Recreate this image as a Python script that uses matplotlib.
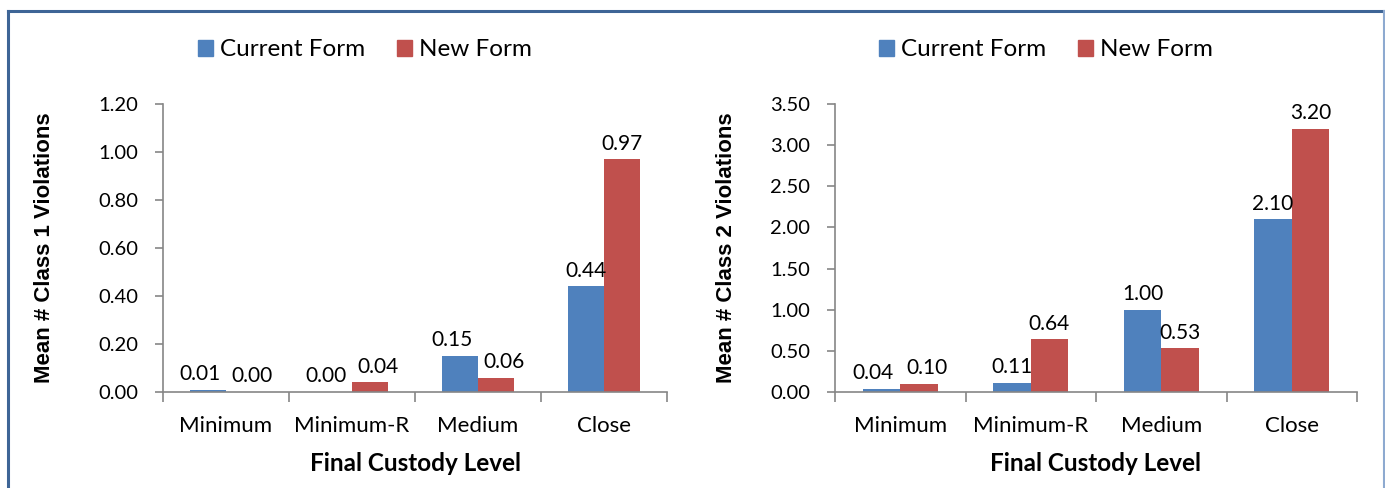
import matplotlib
matplotlib.use("Agg")
import matplotlib.pyplot as plt
from matplotlib.patches import Rectangle
from matplotlib.lines import Line2D
import numpy as np

# Data
levels = ["Minimum", "Minimum-R", "Medium", "Close"]
series_names = ["Current Form", "New Form"]
class1_current = [0.01, 0.00, 0.15, 0.44]
class1_new = [0.00, 0.04, 0.06, 0.97]
class2_current = [0.04, 0.11, 1.00, 2.10]
class2_new = [0.10, 0.64, 0.53, 3.20]
class1_ticks = [0.0, 0.2, 0.4, 0.6, 0.8, 1.0, 1.2]
class2_ticks = [0.0, 0.5, 1.0, 1.5, 2.0, 2.5, 3.0, 3.5]

BLUE = "#4F81BD"
RED = "#C0504D"
AXIS_GRAY = "#868686"
FONT = "Lato"

plt.rcParams["font.family"] = [FONT, "DejaVu Sans"]

W, H = 1385, 488
fig = plt.figure(figsize=(W / 100, H / 100), dpi=100)
fig.patch.set_facecolor("white")


def px_axes(x0, x1, y_top, y_bot):
    return fig.add_axes([x0 / W, (H - y_bot) / H, (x1 - x0) / W, (y_bot - y_top) / H])


def draw_panel(ax, cur, new, ticks, ylabel, ylab_x, legend_cx):
    x = np.arange(len(levels))
    bw = 0.286
    b1 = ax.bar(x - bw / 2, cur, bw, color=BLUE, edgecolor="none")
    b2 = ax.bar(x + bw / 2, new, bw, color=RED, edgecolor="none")
    span = ticks[-1] - ticks[0]
    for i, (rc, rn) in enumerate(zip(b1, b2)):
        vc, vn = cur[i], new[i]
        # push the two labels of a pair apart when they would sit at similar heights
        close = abs(vc - vn) < 0.09 * span
        dx = 6 if close else 0
        for rect, v, sgn in ((rc, vc, -1), (rn, vn, 1)):
            ax.annotate(f"{v:.2f}", (rect.get_x() + rect.get_width() / 2, v),
                        xytext=(sgn * dx, 4), textcoords="offset points",
                        ha="center", va="bottom", fontsize=15, color="black")
    ax.set_xlim(-0.5, len(levels) - 0.5)
    ax.set_ylim(ticks[0], ticks[-1])
    ax.set_yticks(ticks)
    ax.set_yticklabels([f"{t:.2f}" for t in ticks], fontsize=14.5)
    ax.set_xticks(x)
    ax.set_xticklabels(levels, fontsize=16)
    ax.tick_params(axis="x", length=0, pad=17)
    ax.set_xticks(np.arange(-0.5, len(levels)), minor=True)
    ax.tick_params(axis="x", which="minor", length=7, color=AXIS_GRAY, width=1.2)
    ax.tick_params(axis="y", length=6, color=AXIS_GRAY, width=1.2, pad=12)
    for s in ("top", "right"):
        ax.spines[s].set_visible(False)
    for s in ("left", "bottom"):
        ax.spines[s].set_color(AXIS_GRAY)
        ax.spines[s].set_linewidth(1.2)
    ax.set_facecolor("white")
    ax.set_xlabel("Final Custody Level", fontsize=17.5, fontweight="bold", labelpad=12)
    fig.text(ylab_x / W, 0.5 * ((H - 392) + (H - 104)) / H, ylabel, rotation=90,
             ha="center", va="center", fontsize=16, fontweight="bold",
             family=["Liberation Sans", "DejaVu Sans"])
    handles = [Rectangle((0, 0), 1, 1, color=BLUE), Rectangle((0, 0), 1, 1, color=RED)]
    fig.legend(handles, series_names, loc="center", ncol=2,
               bbox_to_anchor=(legend_cx / W, (H - 50) / H), frameon=False,
               fontsize=17.5, handlelength=0.6, handleheight=0.6,
               handletextpad=0.3, columnspacing=1.3)


ax1 = px_axes(163, 667, 104, 392)
draw_panel(ax1, class1_current, class1_new, class1_ticks,
           "Mean # Class 1 Violations", 45, 365)

ax2 = px_axes(835, 1357, 104, 392)
draw_panel(ax2, class2_current, class2_new, class2_ticks,
           "Mean # Class 2 Violations", 727, 1046)

# Frame around the figure
fig.add_artist(Line2D([8 / W, 1384 / W], [(H - 11) / H, (H - 11) / H],
                      color="#3E6596", lw=2.2, transform=fig.transFigure))
fig.add_artist(Line2D([8 / W, 8 / W], [0, (H - 11) / H],
                      color="#3E6596", lw=2.2, transform=fig.transFigure))
fig.add_artist(Line2D([1384 / W, 1384 / W], [0, (H - 11) / H],
                      color="#8EAAD0", lw=1.5, transform=fig.transFigure))

fig.savefig("out.png", dpi=100, facecolor="white")
